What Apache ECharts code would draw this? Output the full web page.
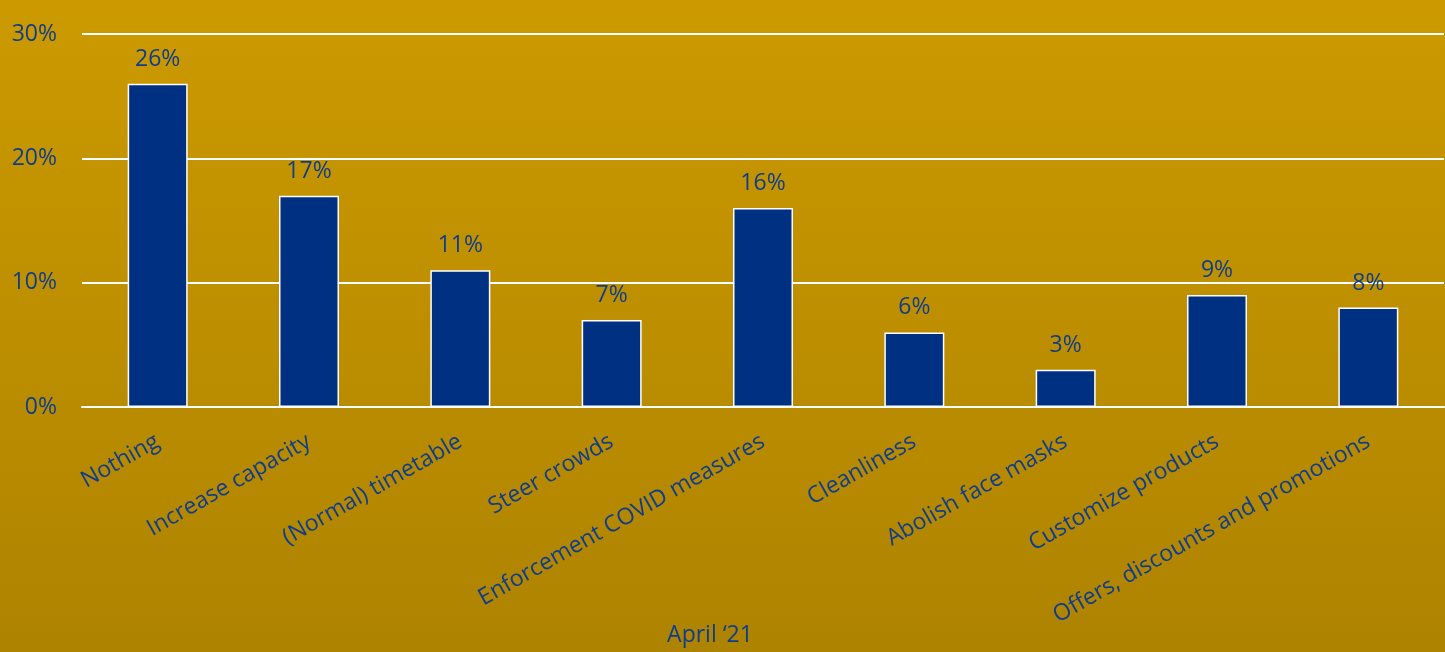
<!DOCTYPE html>
<html>
<head>
<meta charset="utf-8">
<script src="https://cdn.jsdelivr.net/npm/echarts@6/dist/echarts.min.js"></script>
<style>
html,body{margin:0;padding:0;}
#c{width:1445px;height:652px;}
</style>
</head>
<body>
<div id="c"></div>
<script>
const categories = ["Nothing", "Increase capacity", "(Normal) timetable", "Steer crowds", "Enforcement COVID measures", "Cleanliness", "Abolish face masks", "Customize products", "Offers, discounts and promotions"];
const values = [26, 17, 11, 7, 16, 6, 3, 9, 8];
const yTicks = [0, 10, 20, 30];
const periodLabel = "April \u201821";

const textColor = '#0f3d8e';
const fontFam = '"Open Sans", "Noto Sans", sans-serif';

const chart = echarts.init(document.getElementById('c'));
chart.setOption({
  animation: false,
  backgroundColor: {
    type: 'linear', x: 0, y: 0, x2: 0, y2: 1,
    colorStops: [{offset: 0, color: '#cc9a00'}, {offset: 1, color: '#ae8300'}]
  },
  grid: {left: 82, right: 1, top: 34, bottom: 245, containLabel: false},
  xAxis: {
    type: 'category',
    data: categories,
    axisLine: {show: true, lineStyle: {color: '#ffffff', width: 2}},
    axisTick: {show: false},
    axisLabel: {
      rotate: 29.5, interval: 0, margin: 33,
      color: textColor, fontSize: 23, fontFamily: fontFam
    }
  },
  yAxis: {
    type: 'value',
    min: yTicks[0], max: yTicks[yTicks.length - 1], interval: 10,
    axisLine: {show: false},
    axisTick: {show: false},
    splitLine: {lineStyle: {color: '#ffffff', width: 2}},
    axisLabel: {
      formatter: v => v + '%',
      color: textColor, fontSize: 23, fontFamily: fontFam, margin: 25
    }
  },
  series: [{
    type: 'bar',
    data: values,
    barWidth: 60,
    itemStyle: {color: '#003082', borderColor: '#ffffff', borderWidth: 1.5},
    label: {
      show: true, position: 'top', distance: 13,
      formatter: p => p.value + '%',
      color: textColor, fontSize: 23, fontFamily: fontFam
    }
  }],
  graphic: [{
    type: 'text',
    x: 710, y: 635,
    style: {
      text: periodLabel,
      fill: textColor,
      font: '23px ' + fontFam,
      textAlign: 'center',
      textVerticalAlign: 'middle'
    }
  }]
});
</script>
</body>
</html>
